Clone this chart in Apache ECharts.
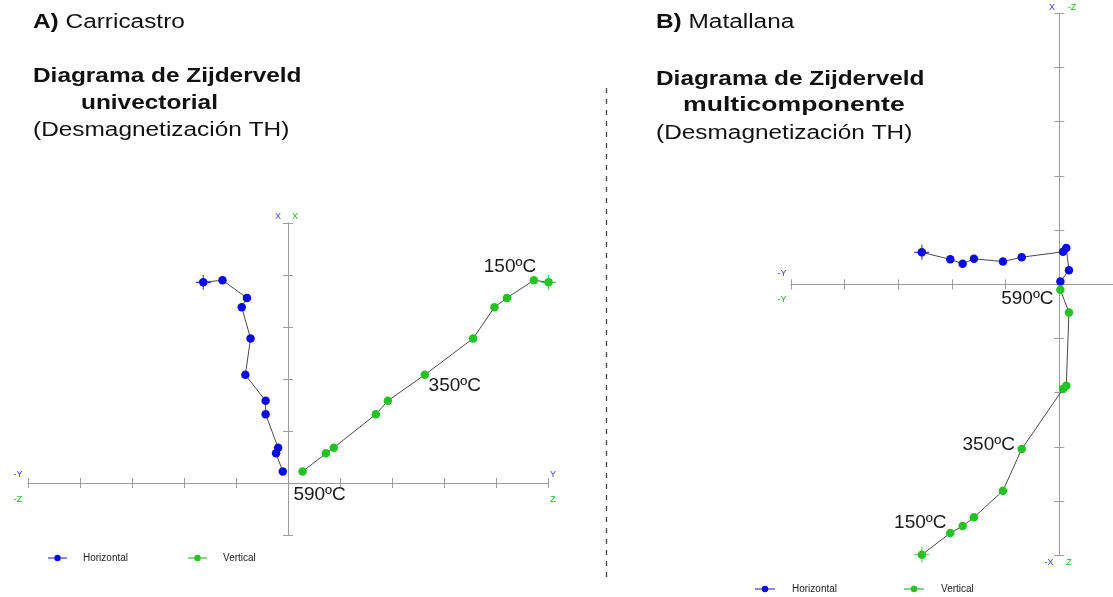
<!DOCTYPE html>
<html>
<head>
<meta charset="utf-8">
<script src="https://cdn.jsdelivr.net/npm/echarts@6/dist/echarts.min.js"></script>
<style>
  html, body { margin: 0; padding: 0; background: #ffffff; }
  #chart { width: 1113px; height: 597px; }
</style>
</head>
<body>
<div id="chart"></div>
<script>
// Carricastro (thermal demagnetization): X is shared by both projections,
// Y goes with the horizontal plane, Z with the vertical plane.
const carrX = [3.86, 3.90, 3.56, 3.38, 2.78, 2.08, 1.58, 1.32, 0.68, 0.57, 0.22];
const carrY = [-1.63, -1.26, -0.79, -0.89, -0.72, -0.82, -0.43, -0.43, -0.19, -0.23, -0.10];
const carrZ = [5.01, 4.73, 4.21, 3.97, 3.56, 2.63, 1.92, 1.69, 0.88, 0.73, 0.28];
const carrSteps = ['', '150ºC', '', '', '', '350ºC', '', '', '', '', '590ºC'];

// Matallana: Y is shared, X for the horizontal plane, Z for the vertical plane.
const matY = [-2.56, -2.03, -1.80, -1.59, -1.05, -0.70, 0.07, 0.13, 0.18, 0.02];
const matX = [0.59, 0.46, 0.38, 0.47, 0.42, 0.50, 0.60, 0.67, 0.26, 0.05];
const matZ = [-4.99, -4.59, -4.46, -4.30, -3.81, -3.04, -1.93, -1.87, -0.52, -0.10];
const matSteps = ['', '150ºC', '', '', '', '350ºC', '', '', '', '590ºC'];

const seriesNames = ['Horizontal', 'Vertical'];

const FONT = 'Liberation Sans, Arial, Helvetica, sans-serif';
const BLUE = '#0a0ae8';
const GREEN = '#22c322';
const AXIS = '#9c9c9c';
const LINK = '#4a4a4a';
const CROSS = 'path://M0,7h15v1.1h-15z M7,0h1.1v15h-1.1z';

// where each temperature tag sits relative to its step
const carrTagOffset = { 1: [-24, -13], 5: [30, 11], 10: [17, 23] };
const matTagOffset = { 1: [-30, -10], 5: [-33, -4], 9: [-33, 9.5] };

function pathData(hs, vs, steps, offsets) {
  return hs.map((h, i) => {
    const item = { value: [h, vs[i]] };
    if (steps && steps[i]) {
      item.label = {
        show: true, formatter: steps[i], position: 'inside',
        offset: offsets[i], fontSize: 19, fontFamily: FONT, color: '#1a1a1a'
      };
    }
    return item;
  });
}

function pathSeries(name, color, xi, hs, vs, steps, offsets) {
  return [{
    name: name, type: 'line', xAxisIndex: xi, yAxisIndex: xi,
    data: pathData(hs, vs, steps, offsets),
    symbol: 'circle', symbolSize: 8.5, showSymbol: true, clip: false,
    itemStyle: { color: color },
    lineStyle: { color: LINK, width: 1 },
    emphasis: { disabled: true }, z: 3
  }, {
    type: 'scatter', xAxisIndex: xi, yAxisIndex: xi, clip: false,
    data: [[hs[0], vs[0]]], symbol: CROSS, symbolSize: 15,
    itemStyle: { color: color }, silent: true, z: 4
  }];
}

function axisPair(dim, grid, min, max) {
  const base = {
    gridIndex: grid, type: 'value', min: min, max: max, interval: 1,
    axisLabel: { show: false }, splitLine: { show: false },
    axisLine: { onZero: true, lineStyle: { color: AXIS, width: 1 } },
    axisTick: { show: true, length: 5, inside: false, lineStyle: { color: AXIS } }
  };
  const posA = dim === 'x' ? 'bottom' : 'left';
  const posB = dim === 'x' ? 'top' : 'right';
  return [
    Object.assign({}, base, { position: posA }),
    // the twin axis only adds the other half of each tick
    Object.assign({}, base, { position: posB,
      axisLine: { show: false, onZero: true, lineStyle: { color: AXIS } } })
  ];
}

function tag(x, y, text, color) {
  return { type: 'text', x: x, y: y, silent: true,
    style: { text: text, fill: color, fontSize: 9, fontFamily: FONT, align: 'center', verticalAlign: 'middle' } };
}

function heading(x, y, text, sx) {
  return { type: 'text', x: x, y: y, scaleX: sx || 1.22, silent: true,
    style: {
      text: text, fill: '#111', fontSize: 20, fontFamily: FONT, verticalAlign: 'middle',
      rich: {
        b: { fontSize: 20, fontFamily: FONT, fontWeight: 'bold', fill: '#111' },
        r: { fontSize: 20, fontFamily: FONT, fill: '#111' }
      }
    } };
}

const AB = '#3b3be0', AG = '#2fae2f';

function legendData(lineBlue, lineGreen) {
  return [
    { name: seriesNames[0], lineStyle: { color: lineBlue } },
    { name: seriesNames[1], lineStyle: { color: lineGreen } }
  ];
}

const option = {
  animation: false,
  backgroundColor: '#ffffff',
  grid: [
    { left: 28, top: 223, width: 520, height: 312 },
    { left: 790.8, top: 13.3, width: 325.8, height: 542 }
  ],
  xAxis: [].concat(axisPair('x', 0, -5, 5), axisPair('x', 1, -5, 1)),
  yAxis: [].concat(axisPair('y', 0, -1, 5), axisPair('y', 1, -5, 5)),
  legend: [{
    left: 47, top: 553, padding: 0, itemWidth: 19, itemHeight: 8, itemGap: 59,
    selectedMode: false,
    textStyle: { fontSize: 10, fontFamily: FONT, color: '#222', padding: [0, 0, 0, 11] },
    data: legendData('#8a8ad0', '#8ad08a')
  }, {
    left: 754, top: 584, padding: 0, itemWidth: 20, itemHeight: 8, itemGap: 66,
    selectedMode: false,
    textStyle: { fontSize: 10, fontFamily: FONT, color: '#222', padding: [0, 0, 0, 12] },
    data: legendData('#8a8ad0', '#8ad08a')
  }],
  series: [].concat(
    pathSeries(seriesNames[0], BLUE, 0, carrY, carrX, null, null),
    pathSeries(seriesNames[1], GREEN, 0, carrZ, carrX, carrSteps, carrTagOffset),
    pathSeries(seriesNames[0], BLUE, 2, matY, matX, null, null),
    pathSeries(seriesNames[1], GREEN, 2, matY, matZ, matSteps, matTagOffset)
  ),
  graphic: [
    heading(33, 22, '{b|A)}{r| Carricastro}'),
    heading(33, 76, '{b|Diagrama de Zijderveld}'),
    heading(81, 103, '{b|univectorial}'),
    heading(33, 130, '{r|(Desmagnetización TH)}'),
    heading(656, 22, '{b|B)}{r| Matallana}'),
    heading(656, 79, '{b|Diagrama de Zijderveld}'),
    heading(683, 105, '{b|multicomponente}', 1.33),
    heading(656, 133, '{r|(Desmagnetización TH)}'),
    { type: 'line', silent: true,
      shape: { x1: 606.5, y1: 88, x2: 606.5, y2: 578 },
      style: { stroke: '#444', lineWidth: 1.3, lineDash: [5, 6] } },
    tag(278, 217, 'X', AB), tag(295, 217, 'X', AG),
    tag(18, 475, '-Y', AB), tag(18, 500, '-Z', AG),
    tag(553, 475, 'Y', AB), tag(553, 500, 'Z', AG),
    tag(1052, 8, 'X', AB), tag(1072, 8, '-Z', AG),
    tag(782, 274, '-Y', AB), tag(782, 300, '-Y', AG),
    tag(1049, 563, '-X', AB), tag(1069, 563, 'Z', AG)
  ]
};

const chart = echarts.init(document.getElementById('chart'), null, { renderer: 'canvas' });
chart.setOption(option);
</script>
</body>
</html>
